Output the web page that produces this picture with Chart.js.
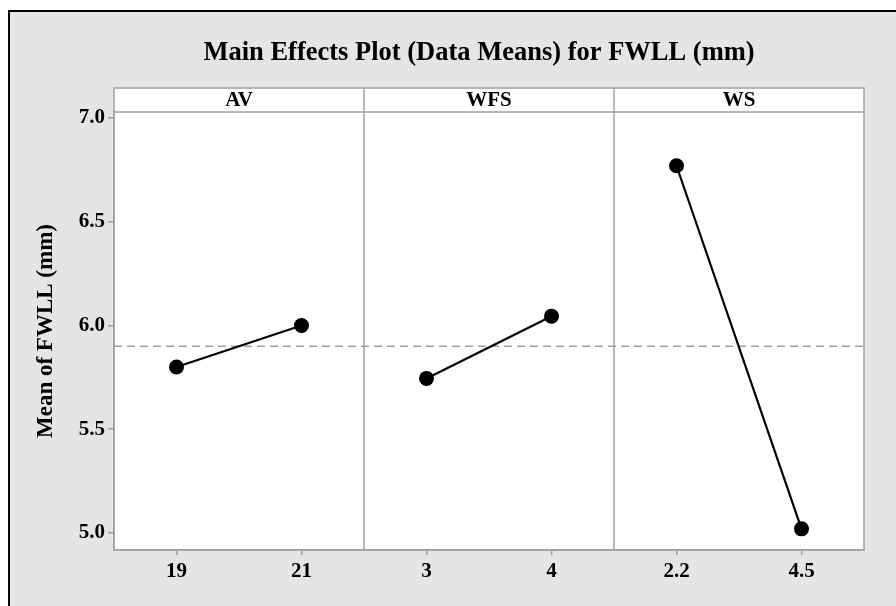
<!DOCTYPE html>
<html><head><meta charset="utf-8">
<script src="https://cdn.jsdelivr.net/npm/chart.js@4"></script>
<style>html,body{margin:0;padding:0;background:#fff}#wrap{width:896px;height:606px;position:relative}</style>
</head><body><div id="wrap"><canvas id="c" width="896" height="606"></canvas></div>
<script>
const factors = ['AV', 'WFS', 'WS'];
const avLevels = ['19', '21'];
const wfsLevels = ['3', '4'];
const wsLevels = ['2.2', '4.5'];
const avMeans = [5.80, 6.00];
const wfsMeans = [5.745, 6.045];
const wsMeans = [6.77, 5.02];
const grandMean = 5.90;
const yTicks = [5.0, 5.5, 6.0, 6.5, 7.0];
const titleText = 'Main Effects Plot (Data Means) for FWLL (mm)';
const yTitle = 'Mean of FWLL (mm)';

const levelGroups = [avLevels, wfsLevels, wsLevels];
const meanGroups = [avMeans, wfsMeans, wsMeans];
const xLabels = levelGroups.flat();
const FONT = 'Liberation Serif';
const GRAY = '#a0a0a0';

const datasets = [{
  label: 'Mean',
  data: [{x: 0, y: grandMean}, {x: factors.length * 2, y: grandMean}],
  borderColor: GRAY, borderWidth: 1.3, borderDash: [8, 5],
  pointRadius: 0, order: 5
}];
meanGroups.forEach((vals, i) => {
  datasets.push({
    label: factors[i],
    data: vals.map((v, j) => ({x: 2 * i + 0.5 + j, y: v})),
    borderColor: '#000', borderWidth: 2.2,
    pointRadius: 7.5, pointBackgroundColor: '#000', pointBorderWidth: 0,
    order: 1
  });
});

const framePlugin = {
  id: 'frame',
  beforeDraw(chart) {
    const ctx = chart.ctx, a = chart.chartArea;
    ctx.save();
    ctx.fillStyle = '#fff';
    ctx.fillRect(0, 0, chart.width, chart.height);
    ctx.fillStyle = '#e5e5e5';
    ctx.fillRect(10, 12, chart.width - 10, chart.height - 12);
    ctx.fillStyle = '#000';
    ctx.fillRect(8, 10, 2, chart.height - 10);
    ctx.fillRect(8, 10, chart.width - 8, 2);
    ctx.fillStyle = '#fff';
    ctx.fillRect(a.left, a.top - 24, a.right - a.left, a.bottom - a.top + 24);
    ctx.restore();
  },
  beforeDatasetsDraw(chart) {
    const ctx = chart.ctx, a = chart.chartArea, xs = chart.scales.x;
    ctx.save();
    ctx.strokeStyle = GRAY;
    ctx.lineWidth = 1.5;
    ctx.strokeRect(a.left, a.top - 24, a.right - a.left, a.bottom - a.top + 24);
    ctx.beginPath();
    ctx.moveTo(a.left, a.top); ctx.lineTo(a.right, a.top);
    for (let i = 1; i < factors.length; i++) {
      const px = xs.getPixelForValue(2 * i);
      ctx.moveTo(px, a.top - 24); ctx.lineTo(px, a.bottom);
    }
    ctx.stroke();
    ctx.fillStyle = '#000';
    ctx.font = 'bold 21px "' + FONT + '"';
    ctx.textAlign = 'center';
    ctx.textBaseline = 'middle';
    factors.forEach((f, i) => {
      ctx.fillText(f, xs.getPixelForValue(2 * i + 1), a.top - 11);
    });
    ctx.restore();
  }
};

new Chart(document.getElementById('c'), {
  type: 'line',
  data: {datasets},
  plugins: [framePlugin],
  options: {
    responsive: false, animation: false,
    layout: {padding: {left: 77, right: 15, top: 0, bottom: 0}},
    plugins: {
      legend: {display: false},
      tooltip: {enabled: false},
      title: {
        display: true, text: titleText, color: '#000',
        font: {family: FONT, size: 26.5, weight: 'bold'},
        padding: {top: 37, bottom: 43.2}
      }
    },
    scales: {
      x: {
        type: 'linear', min: 0, max: factors.length * 2,
        afterBuildTicks: s => { s.ticks = xLabels.map((_, k) => ({value: k + 0.5})); },
        afterFit: s => { s.height = 56; },
        grid: {drawOnChartArea: false, drawTicks: true, tickLength: 5, color: GRAY, lineWidth: 1.5},
        border: {display: true, color: GRAY, width: 1.5},
        ticks: {
          autoSkip: false, maxRotation: 0, color: '#000', padding: 4,
          font: {family: FONT, size: 21, weight: 'bold'},
          callback: (v, i) => xLabels[i]
        }
      },
      y: {
        type: 'linear', min: 4.918, max: 7.029,
        afterBuildTicks: s => { s.ticks = yTicks.map(v => ({value: v})); },
        afterFit: s => { s.width = 37; },
        grid: {drawOnChartArea: false, drawTicks: true, tickLength: 6, color: GRAY, lineWidth: 1.5},
        border: {display: true, color: GRAY, width: 1.5},
        ticks: {
          color: '#000', padding: 3,
          font: {family: FONT, size: 21, weight: 'bold'},
          callback: v => Number(v).toFixed(1)
        },
        title: {
          display: true, text: yTitle, color: '#000',
          font: {family: FONT, size: 23, weight: 'bold'},
          padding: {top: -45, bottom: 0}
        }
      },
      y2: {
        type: 'linear', position: 'right', display: true,
        afterFit: s => { s.width = 17; },
        grid: {display: false}, border: {display: false},
        ticks: {display: false}
      }
    }
  }
});
</script></body></html>
